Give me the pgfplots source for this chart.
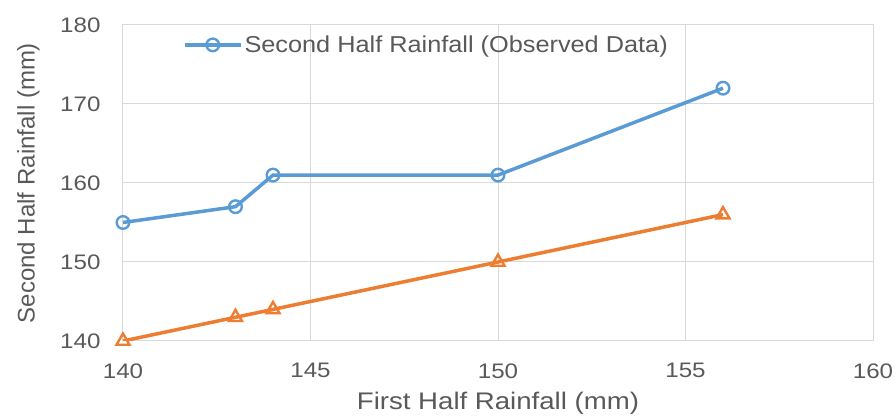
\documentclass[border=0pt]{standalone}
\usepackage{fontspec}
\setmainfont{Liberation Sans}
\newfontfamily\hfont[FakeStretch=1.15]{Liberation Sans}
\newfontfamily\lfont[FakeStretch=1.1]{Liberation Sans}
\usepackage{pgfplots}
\pgfplotsset{compat=1.18}
\definecolor{tx}{HTML}{595959}
\definecolor{bl}{HTML}{5B9BD5}
\definecolor{og}{HTML}{ED7D31}
\definecolor{gr}{HTML}{D9D9D9}
\begin{document}
\begin{tikzpicture}
\begin{axis}[
  at={(0,0)}, anchor=south west,
  scale only axis,
  width=750pt, height=316pt,
  xmin=140, xmax=160, ymin=140, ymax=180,
  xtick={140,145,...,160}, ytick={140,150,...,180},
  grid=major,
  grid style={gr, line width=1pt},
  axis line style={gr, line width=1pt},
  tick style={draw=none},
  /pgf/number format/assume math mode=true,
  ticklabel style={font=\hfont\fontsize{21}{25}\selectfont, text=tx},
  xticklabel style={yshift=-19pt},
  yticklabel style={xshift=-19pt},
  xlabel={First Half Rainfall (mm)},
  ylabel={Second Half Rainfall (mm)},
  xlabel style={font=\hfont\fontsize{24}{28}\selectfont, text=tx, at={(axis description cs:0.5,-0.198)}, anchor=center},
  ylabel style={font=\fontsize{24}{28}\selectfont, text=tx, at={(axis description cs:-0.126,0.5)}, anchor=center},
  legend style={draw=none, fill=none, inner sep=0pt, outer sep=0pt,
    at={(axis description cs:0.08,0.937)}, anchor=west,
    font=\lfont\fontsize{23}{27}\selectfont, text=tx},
  legend cell align=left,
  legend image code/.code={\draw[#1, mark repeat=2, mark phase=2] plot coordinates {(0pt,0pt) (28pt,0pt) (56pt,0pt)};},
]
\addplot[bl, line width=3.5pt, mark=o, mark size=6.3pt, mark options={fill=white, line width=2.4pt}]
  coordinates {(140,155) (143,157) (144,161) (150,161) (156,172)};
\addlegendentry{Second Half Rainfall (Observed Data)}
\addplot[og, line width=3.5pt, mark=triangle, mark size=7.5pt, mark options={fill=white, line width=2.4pt}, forget plot]
  coordinates {(140,140) (143,143) (144,144) (150,150) (156,156)};
\end{axis}
\pgfresetboundingbox
\path[use as bounding box] (-123pt,-78pt) rectangle (773pt,341pt);
\end{tikzpicture}
\end{document}
